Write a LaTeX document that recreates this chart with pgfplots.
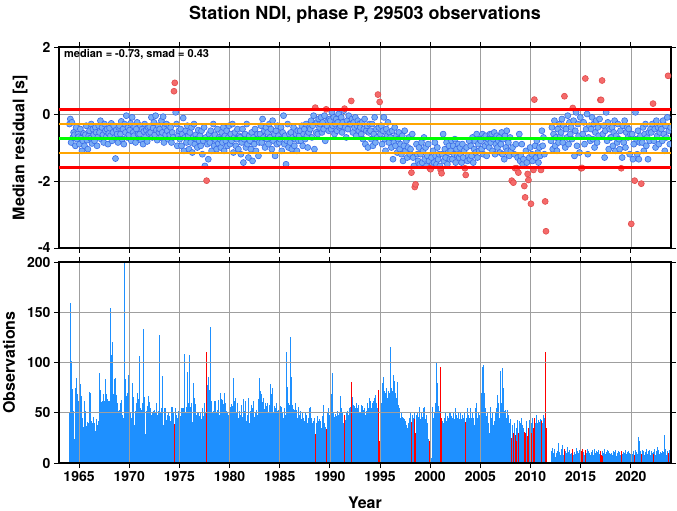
\documentclass[border=0pt]{standalone}
\usepackage{fontspec}
\setmainfont{TeX Gyre Heros}
\usepackage{pgfplots}
\pgfplotsset{compat=1.18}
\usepackage{pgfplotstable}
\definecolor{barblue}{HTML}{1E90FF}
\definecolor{ptblue}{HTML}{79ADF5}
\definecolor{ptedge}{HTML}{3A6BE8}
\definecolor{ptred}{HTML}{F46A6A}
\definecolor{ptrededge}{HTML}{E24A4A}
\definecolor{lnorange}{HTML}{FFA500}
\definecolor{lngreen}{HTML}{00FF00}
\definecolor{lnred}{HTML}{FF0000}
\pgfplotstableread{
t res n
1964.04 -0.30 51
1964.13 -0.15 159
1964.21 -0.85 101
1964.29 -0.25 68
1964.38 -0.70 74
1964.46 -0.55 52
1964.54 -0.62 24
1964.63 -0.95 75
1964.71 -0.40 85
1964.79 -0.75 69
1964.88 -0.60 58
1964.96 -0.68 62
1965.04 -0.90 109
1965.13 -0.45 79
1965.21 -0.72 67
1965.29 -1.10 45
1965.38 -0.80 40
1965.46 -0.58 36
1965.54 -0.95 62
1965.63 -0.62 52
1965.71 -0.35 37
1965.79 -0.78 41
1965.88 -1.05 40
1965.96 -0.65 40
1966.04 -0.50 71
1966.13 -0.72 70
1966.21 -0.30 42
1966.29 -0.88 40
1966.38 -0.45 43
1966.46 -0.62 46
1966.54 -0.80 40
1966.63 -0.40 32
1966.71 -0.55 44
1966.79 -0.95 38
1966.88 -0.68 42
1966.96 -0.35 40
1967.04 -0.55 90
1967.13 -0.20 73
1967.21 -0.75 61
1967.29 -0.40 62
1967.38 -0.62 69
1967.46 -0.85 64
1967.54 -0.30 62
1967.63 -0.50 84
1967.71 -0.68 69
1967.79 -0.45 64
1967.88 -0.90 62
1967.96 -0.58 60
1968.04 -0.42 62
1968.13 -0.65 154
1968.21 -0.28 107
1968.29 -0.80 120
1968.38 -0.55 25
1968.46 -0.35 69
1968.54 -0.70 84
1968.63 -1.33 85
1968.71 -0.48 68
1968.79 -0.60 60
1968.88 -0.85 41
1968.96 -0.40 52
1969.04 -0.35 53
1969.13 -0.60 60
1969.21 -0.22 63
1969.29 -0.75 48
1969.38 -0.45 45
1969.46 -0.90 40
1969.54 -0.30 200
1969.63 -0.55 84
1969.71 -0.05 67
1969.79 -0.70 70
1969.88 -0.40 75
1969.96 -0.62 88
1970.04 -0.48 64
1970.13 -0.28 50
1970.21 -0.80 45
1970.29 -0.10 80
1970.38 -0.55 50
1970.46 -0.65 66
1970.54 -0.38 38
1970.63 -0.85 52
1970.71 -0.45 60
1970.79 -0.25 70
1970.88 -0.60 64
1970.96 -0.72 55
1971.04 -0.60 106
1971.13 -0.35 55
1971.21 -0.78 53
1971.29 -0.45 60
1971.38 -0.90 49
1971.46 -0.52 133
1971.54 -0.30 66
1971.63 -0.68 29
1971.71 -0.48 52
1971.79 -0.82 57
1971.88 -0.40 67
1971.96 -0.58 52
1972.04 -0.38 61
1972.13 -0.55 55
1972.21 -0.10 48
1972.29 -0.70 50
1972.38 -0.42 52
1972.46 -0.25 53
1972.54 -0.62 45
1972.63 -0.05 50
1972.71 -0.48 60
1972.79 -0.78 48
1972.88 -0.35 52
1972.96 -0.55 55
1973.04 -0.45 127
1973.13 -0.70 50
1973.21 -0.20 55
1973.29 -0.55 87
1973.38 -0.08 38
1973.46 -0.85 52
1973.54 -0.40 55
1973.63 -0.62 55
1973.71 -0.30 43
1973.79 -0.50 48
1973.88 -0.75 50
1973.96 -0.35 45
1974.04 -0.62 47
1974.13 -0.40 42
1974.21 -0.85 56
1974.29 -0.55 56
1974.38 -0.70 50
1974.46 0.68 28
1974.54 0.93 39
1974.63 0.05 55
1974.71 -0.30 48
1974.79 -0.95 45
1974.88 -0.65 52
1974.96 -0.50 50
1975.04 -0.75 50
1975.13 -0.45 47
1975.21 -0.95 55
1975.29 -0.60 55
1975.38 -0.12 55
1975.46 -1.10 108
1975.54 -0.70 90
1975.63 -0.50 50
1975.71 -0.85 56
1975.79 -0.35 91
1975.88 -0.65 60
1975.96 -1.05 48
1976.04 -0.55 107
1976.13 -0.85 56
1976.21 -0.40 60
1976.29 -1.15 41
1976.38 -0.70 80
1976.46 -0.30 65
1976.54 -0.90 55
1976.63 -0.62 59
1976.71 -0.75 48
1976.79 -1.00 50
1976.88 -0.48 50
1976.96 -0.80 47
1977.04 -0.65 45
1977.13 -0.95 50
1977.21 -0.50 44
1977.29 -1.20 55
1977.38 -0.80 47
1977.46 -0.40 60
1977.54 -1.55 52
1977.63 -0.70 51
1977.71 -1.99 110
1977.79 -0.90 78
1977.88 -1.35 86
1977.96 -0.60 73
1978.04 -0.85 72
1978.13 -0.50 135
1978.21 -1.10 62
1978.29 -0.70 50
1978.38 -0.30 52
1978.46 -0.95 62
1978.54 -0.62 62
1978.63 -0.78 58
1978.71 -1.05 50
1978.79 -0.45 53
1978.88 -0.88 63
1978.96 -0.70 48
1979.04 -0.75 70
1979.13 -1.00 35
1979.21 -0.55 64
1979.29 -0.85 63
1979.38 -0.40 59
1979.46 -1.10 70
1979.54 -0.65 37
1979.63 -0.80 60
1979.71 -0.50 52
1979.79 -0.95 50
1979.88 -0.70 48
1979.96 -0.35 60
1980.04 -0.90 56
1980.13 -0.60 55
1980.21 -0.80 59
1980.29 -0.30 57
1980.38 -1.15 85
1980.46 -0.70 62
1980.54 -0.55 65
1980.63 -0.95 42
1980.71 -0.75 50
1980.79 -0.45 60
1980.88 -1.05 45
1980.96 -0.65 52
1981.04 -0.70 48
1981.13 -1.20 58
1981.21 -0.85 50
1981.29 -0.45 46
1981.38 -1.45 64
1981.46 -0.75 52
1981.54 -0.60 62
1981.63 -1.00 36
1981.71 -0.30 42
1981.79 -0.90 48
1981.88 -1.30 65
1981.96 -0.65 40
1982.04 -0.80 52
1982.13 -1.05 47
1982.21 -0.55 58
1982.29 -1.40 55
1982.38 -0.70 62
1982.46 -0.90 46
1982.54 -0.45 50
1982.63 -1.10 53
1982.71 -0.75 42
1982.79 -0.60 48
1982.88 -1.25 64
1982.96 -0.85 85
1983.04 -0.60 72
1983.13 -0.35 69
1983.21 -0.85 69
1983.29 -0.15 61
1983.38 -0.70 65
1983.46 -0.50 54
1983.54 -1.00 60
1983.63 -0.40 57
1983.71 -0.75 55
1983.79 -0.55 60
1983.88 -0.90 50
1983.96 -0.30 58
1984.04 -0.70 79
1984.13 -0.45 57
1984.21 -1.05 69
1984.29 -0.20 75
1984.38 -0.80 50
1984.46 -0.60 57
1984.54 -1.25 55
1984.63 -0.50 60
1984.71 -0.90 48
1984.79 -0.35 52
1984.88 -0.65 53
1984.96 -0.85 50
1985.04 -0.75 57
1985.13 -0.40 52
1985.21 -1.10 56
1985.29 -0.55 50
1985.38 -0.05 45
1985.46 -0.90 55
1985.54 -0.65 48
1985.63 -1.50 96
1985.71 -0.80 110
1985.79 -0.30 76
1985.88 -1.00 60
1985.96 -0.60 58
1986.04 -0.85 125
1986.13 -0.55 86
1986.21 -1.05 60
1986.29 -0.70 58
1986.38 -0.40 54
1986.46 -0.95 53
1986.54 -0.75 60
1986.63 -0.60 50
1986.71 -1.10 53
1986.79 -0.50 45
1986.88 -0.80 56
1986.96 -0.65 48
1987.04 -0.50 52
1987.13 -0.80 44
1987.21 -0.35 50
1987.29 -0.95 38
1987.38 -0.60 45
1987.46 -0.45 42
1987.54 -0.75 50
1987.63 -0.30 48
1987.71 -0.65 40
1987.79 -1.00 38
1987.88 -0.55 45
1987.96 -0.40 55
1988.04 -0.45 56
1988.13 -0.20 45
1988.21 -0.70 40
1988.29 -0.35 36
1988.38 -0.05 42
1988.46 -1.05 45
1988.54 0.19 29
1988.63 -0.55 40
1988.71 -0.25 47
1988.79 -0.60 38
1988.88 -0.15 42
1988.96 -0.40 44
1989.04 -0.30 42
1989.13 -0.10 35
1989.21 -0.55 40
1989.29 -0.25 47
1989.38 -0.45 58
1989.46 -0.05 40
1989.54 -0.80 36
1989.63 0.14 34
1989.71 -0.35 45
1989.79 -0.20 50
1989.88 -0.50 55
1989.96 -0.15 48
1990.04 -0.20 66
1990.13 -0.45 69
1990.21 0.05 62
1990.29 -0.35 90
1990.38 -0.10 50
1990.46 -0.60 46
1990.54 -0.30 49
1990.63 -0.15 47
1990.71 -0.50 45
1990.79 -0.25 52
1990.88 0.00 48
1990.96 -0.40 50
1991.04 -0.35 67
1991.13 -0.10 55
1991.21 -0.55 45
1991.29 -0.25 50
1991.38 0.10 40
1991.46 0.16 48
1991.54 -0.40 43
1991.63 -0.70 50
1991.71 -0.20 52
1991.79 -0.45 46
1991.88 -0.05 48
1991.96 -0.30 55
1992.04 -0.30 56
1992.13 0.39 81
1992.21 -0.15 63
1992.29 -0.55 66
1992.38 -0.25 58
1992.46 -0.40 57
1992.54 -0.10 55
1992.63 -0.65 60
1992.71 -0.35 52
1992.79 -0.20 55
1992.88 -0.50 58
1992.96 -0.30 50
1993.04 -0.40 50
1993.13 -0.60 58
1993.21 -0.25 57
1993.29 -0.75 53
1993.38 -0.45 50
1993.46 -0.15 55
1993.54 -0.90 48
1993.63 -0.50 52
1993.71 -0.35 60
1993.79 -1.00 55
1993.88 -0.55 50
1993.96 -0.30 65
1994.04 -0.50 62
1994.13 -0.75 55
1994.21 -0.30 60
1994.29 -0.95 58
1994.38 -0.60 62
1994.46 -0.10 65
1994.54 -0.85 68
1994.63 -0.45 60
1994.71 -0.70 55
1994.79 0.58 73
1994.88 -0.40 50
1994.96 0.36 22
1995.04 -0.60 63
1995.13 -0.35 60
1995.21 -0.90 80
1995.29 -0.50 70
1995.38 -0.10 86
1995.46 -0.75 72
1995.54 -1.10 70
1995.63 -0.45 75
1995.71 -0.65 65
1995.79 -0.25 60
1995.88 -0.85 72
1995.96 -0.55 70
1996.04 -0.70 115
1996.13 -1.00 75
1996.21 -0.50 72
1996.29 -1.35 88
1996.38 -0.85 82
1996.46 -0.40 60
1996.54 -0.95 70
1996.63 -0.65 65
1996.71 -1.15 81
1996.79 -0.75 58
1996.88 -0.55 55
1996.96 -1.05 50
1997.04 -0.90 45
1997.13 -1.20 50
1997.21 -0.65 46
1997.29 -1.40 45
1997.38 -0.95 44
1997.46 -0.50 40
1997.54 -1.10 42
1997.63 -0.80 38
1997.71 -1.30 35
1997.79 -1.00 40
1997.88 -0.70 45
1997.96 -1.20 44
1998.04 -1.05 51
1998.13 -1.75 41
1998.21 -0.60 48
1998.29 -1.30 45
1998.38 -1.55 50
1998.46 -2.18 44
1998.54 -2.10 30
1998.63 -0.90 48
1998.71 -1.20 50
1998.79 -1.40 46
1998.88 -1.00 55
1998.96 -1.50 56
1999.04 -1.20 44
1999.13 -0.85 50
1999.21 -1.45 46
1999.29 -1.10 55
1999.38 -0.70 56
1999.46 -1.35 52
1999.54 -1.00 44
1999.63 -1.55 48
1999.71 -1.25 40
1999.79 -0.90 24
1999.88 -1.40 20
1999.96 -1.62 22
2000.04 -1.65 11
2000.13 -1.30 5
2000.21 -1.50 56
2000.29 -1.10 45
2000.38 -1.45 50
2000.46 -0.85 48
2000.54 -1.25 60
2000.63 -1.50 100
2000.71 -1.00 80
2000.79 -1.35 57
2000.88 -1.20 52
2000.96 -1.55 48
2001.04 -1.67 96
2001.13 -1.77 45
2001.21 -1.20 42
2001.29 -0.60 40
2001.38 -1.40 45
2001.46 -1.05 38
2001.54 -1.30 50
2001.63 -0.85 42
2001.71 -1.50 47
2001.79 -1.15 45
2001.88 -0.95 50
2001.96 -1.35 48
2002.04 -1.10 50
2002.13 -0.80 47
2002.21 -1.35 45
2002.29 -0.95 50
2002.38 -1.20 44
2002.46 -0.75 52
2002.54 -1.45 55
2002.63 -1.05 48
2002.71 -1.25 45
2002.79 -0.90 50
2002.88 -1.30 44
2002.96 -1.00 42
2003.04 -1.20 50
2003.13 -1.45 44
2003.21 -0.90 48
2003.29 -1.30 45
2003.38 -1.10 50
2003.46 -1.62 41
2003.54 -1.82 35
2003.63 -1.00 45
2003.71 -1.40 55
2003.79 -1.25 48
2003.88 -0.80 45
2003.96 -1.35 50
2004.04 -0.95 55
2004.13 -1.25 45
2004.21 -0.70 50
2004.29 -1.45 45
2004.38 -1.05 38
2004.46 -0.80 43
2004.54 -1.15 55
2004.63 -0.60 60
2004.71 -1.30 45
2004.79 -0.90 50
2004.88 -1.10 48
2004.96 -0.75 55
2005.04 -0.80 55
2005.13 -1.05 70
2005.21 -0.60 96
2005.29 -1.20 98
2005.38 -0.70 70
2005.46 -0.95 55
2005.54 -0.65 45
2005.63 -1.25 47
2005.71 -0.85 50
2005.79 -0.75 40
2005.88 -1.00 30
2005.96 -0.60 56
2006.04 -0.85 40
2006.13 -0.60 45
2006.21 -1.10 50
2006.29 -0.75 38
2006.38 -0.55 42
2006.46 -1.20 48
2006.54 -0.90 50
2006.63 -0.65 55
2006.71 -1.00 68
2006.79 -0.80 60
2006.88 -0.70 45
2006.96 -1.15 40
2007.04 -0.90 92
2007.13 -0.55 60
2007.21 -1.20 95
2007.29 -0.75 75
2007.38 -1.35 52
2007.46 -0.65 53
2007.54 -1.00 50
2007.63 -0.50 45
2007.71 -1.10 53
2007.79 -0.85 48
2007.88 -1.25 40
2007.96 -0.70 44
2008.04 -1.10 43
2008.13 -1.99 25
2008.21 -1.00 38
2008.29 -2.05 30
2008.38 -1.20 40
2008.46 -1.62 28
2008.54 -0.90 35
2008.63 -1.62 22
2008.71 -1.30 43
2008.79 -1.75 30
2008.88 -0.60 42
2008.96 -1.40 40
2009.04 -1.25 45
2009.13 -0.90 40
2009.21 -1.50 38
2009.29 -1.35 35
2009.38 -2.15 31
2009.46 -2.49 30
2009.54 -1.10 42
2009.63 -1.45 38
2009.71 -1.79 27
2009.79 -1.97 35
2009.88 -1.30 43
2009.96 -1.00 42
2010.04 -2.68 30
2010.13 -1.20 40
2010.21 -1.40 45
2010.29 -1.67 35
2010.38 0.43 45
2010.46 -0.95 40
2010.54 -1.30 43
2010.63 -0.80 48
2010.71 -1.15 40
2010.79 -1.45 43
2010.88 -1.00 41
2010.96 -1.25 44
2011.04 -1.67 42
2011.13 -0.50 43
2011.21 -0.95 40
2011.29 -0.70 48
2011.38 -1.20 45
2011.46 -2.61 110
2011.54 -3.50 35
2012.04 -0.80 12
2012.13 -0.40 8
2012.21 -1.05 15
2012.29 -0.60 10
2012.38 -0.20 14
2012.46 -0.95 6
2012.54 -0.70 10
2012.63 -1.10 12
2012.71 -0.45 9
2012.79 -0.85 20
2012.88 -0.30 11
2012.96 -0.65 8
2013.04 -0.55 14
2013.13 -0.15 9
2013.21 -0.85 18
2013.29 -0.35 8
2013.38 0.53 14
2013.46 -1.00 12
2013.54 -0.45 10
2013.63 -0.70 16
2013.71 -0.05 8
2013.79 -0.90 11
2013.88 -0.25 13
2013.96 -0.60 9
2014.04 -0.40 10
2014.13 -0.75 12
2014.21 0.18 14
2014.29 -0.20 8
2014.38 -1.25 11
2014.46 -0.50 9
2014.54 0.05 15
2014.63 -0.95 7
2014.71 -0.30 12
2014.79 -0.65 10
2014.88 -1.15 13
2014.96 -0.10 9
2015.04 -1.62 12
2015.13 -1.61 14
2015.21 -0.60 9
2015.29 -0.25 11
2015.38 -0.90 8
2015.46 1.06 13
2015.54 -0.45 10
2015.63 0.00 14
2015.71 -1.20 9
2015.79 -0.70 12
2015.88 -0.35 10
2015.96 -0.80 8
2016.04 -0.45 11
2016.13 -0.10 9
2016.21 -0.75 13
2016.29 -0.30 8
2016.38 -1.00 14
2016.46 -0.55 10
2016.54 -0.20 12
2016.63 -0.85 7
2016.71 -0.40 11
2016.79 -0.65 13
2016.88 -0.15 9
2016.96 0.42 12
2017.04 0.42 8
2017.13 1.00 7
2017.21 -0.60 12
2017.29 -0.35 10
2017.38 -1.30 14
2017.46 -0.50 9
2017.54 0.05 11
2017.63 -0.80 13
2017.71 -0.25 8
2017.79 -1.05 12
2017.88 -0.45 10
2017.96 -0.70 9
2018.04 -0.70 10
2018.13 -0.40 8
2018.21 -0.95 12
2018.29 -0.55 9
2018.38 -0.20 11
2018.46 -1.10 13
2018.54 -0.65 7
2018.63 -0.85 10
2018.71 -0.30 12
2018.79 -0.75 9
2018.88 -1.05 11
2018.96 -0.50 8
2019.04 -1.62 12
2019.13 -1.30 9
2019.21 -0.35 11
2019.29 -0.85 8
2019.38 -0.20 10
2019.46 -1.00 13
2019.54 -0.55 9
2019.63 -0.40 11
2019.71 -0.70 7
2019.79 -0.45 12
2019.88 -1.20 10
2019.96 -0.60 9
2020.04 -3.28 11
2020.13 -0.60 9
2020.21 -1.35 12
2020.29 -0.90 10
2020.38 -1.99 8
2020.46 0.05 13
2020.54 -0.75 11
2020.63 -1.20 9
2020.71 -0.50 14
2020.79 -1.35 26
2020.88 -0.85 22
2020.96 -0.65 12
2021.04 -2.08 9
2021.13 -0.85 13
2021.21 -0.40 10
2021.29 -1.10 12
2021.38 -0.60 8
2021.46 -0.30 11
2021.54 -0.95 14
2021.63 -0.70 9
2021.71 -1.35 12
2021.79 -0.55 10
2021.88 -0.80 13
2021.96 -0.45 8
2022.04 -0.55 12
2022.13 -0.30 10
2022.21 0.31 9
2022.29 -0.80 11
2022.38 -0.45 14
2022.46 -1.00 8
2022.54 -0.20 12
2022.63 -0.65 16
2022.71 -0.40 10
2022.79 -0.90 13
2022.88 -0.55 9
2022.96 -0.35 11
2023.04 -0.45 10
2023.13 -0.80 12
2023.21 -0.20 9
2023.29 -0.60 11
2023.38 -1.10 28
2023.46 -0.35 14
2023.54 -0.70 8
2023.63 -0.10 12
2023.71 1.14 10
2023.79 -0.50 9
2023.88 -0.90 13
2023.96 -0.40 11
}\data
\pgfplotsset{
  common/.style={
    scale only axis, width=612pt, height=201pt,
    xmin=1963, xmax=2024,
    xtick={1965,1970,1975,1980,1985,1990,1995,2000,2005,2010,2015,2020},
    tick align=outside, major tick length=5pt,
    tick style={black, line width=0.8pt},
    grid=major, grid style={draw=gray!75, line width=0.6pt},
    axis line style={line width=1.3pt},
    ticklabel style={font=\fontsize{14}{14}\selectfont\bfseries},
  },
  pts/.style={only marks, mark=*, mark size=3.0pt},
}
\begin{document}
\begin{tikzpicture}
\useasboundingbox (-59pt,-48pt) rectangle (618pt,463pt);
% top panel
\begin{axis}[common, at={(0pt,215pt)}, anchor=south west, clip marker paths=true,
  ymin=-4, ymax=2, ytick={-4,-2,0,2}, yticklabels={-4,-2,0,2},
  xticklabels={},
  ylabel={Median residual [s]},
  ylabel style={font=\fontsize{16}{16}\selectfont\bfseries, at={(axis description cs:-0.0637,0.5)}, anchor=center},
]
\addplot[pts, mark options={fill=ptblue, draw=ptedge, line width=0.6pt}, restrict y to domain=-1.59:0.13] table[x=t, y=res] {\data};
\addplot[pts, mark options={fill=ptred, draw=ptrededge, line width=0.6pt}, restrict y to domain=0.131:5] table[x=t, y=res] {\data};
\addplot[pts, mark options={fill=ptred, draw=ptrededge, line width=0.6pt}, restrict y to domain=-6:-1.591] table[x=t, y=res] {\data};
\addplot[lnred, line width=2.6pt] coordinates {(1963,0.13) (2024,0.13)};
\addplot[lnred, line width=2.6pt] coordinates {(1963,-1.59) (2024,-1.59)};
\addplot[lnorange, line width=2.2pt] coordinates {(1963,-0.30) (2024,-0.30)};
\addplot[lnorange, line width=2.2pt] coordinates {(1963,-1.16) (2024,-1.16)};
\addplot[lngreen, line width=3.5pt] coordinates {(1963,-0.73) (2024,-0.73)};
\end{axis}
% bottom panel
\begin{axis}[common, at={(0pt,0pt)}, anchor=south west, axis on top,
  ymin=0, ymax=200, ytick={0,50,100,150,200}, yticklabels={0,50,100,150,200},
  xticklabels={1965,1970,1975,1980,1985,1990,1995,2000,2005,2010,2015,2020},
  xlabel={Year},
  xlabel style={font=\fontsize{16}{16}\selectfont\bfseries, at={(axis description cs:0.5,0)}, anchor=center, yshift=-40pt},
  ylabel={Observations},
  ylabel style={font=\fontsize{16}{16}\selectfont\bfseries, at={(axis description cs:-0.0817,0.5)}, anchor=center},
]
\addplot[ycomb, draw=barblue, line width=0.78pt] table[x=t, y=n] {\data};
\addplot[ycomb, draw=lnred, line width=0.78pt] table[x=t, y expr={or(\thisrow{res}>0.13, \thisrow{res}<(-1.59))*\thisrow{n}}] {\data};
\end{axis}
\node[anchor=base, font=\fontsize{18}{18}\selectfont\bfseries] at (306pt,443.5pt) {Station NDI, phase P, 29503 observations};
\node[anchor=base west, font=\fontsize{11}{11}\selectfont\bfseries, inner sep=0pt] at (5pt,405.5pt) {median = -0.73, smad = 0.43};
\end{tikzpicture}
\end{document}
